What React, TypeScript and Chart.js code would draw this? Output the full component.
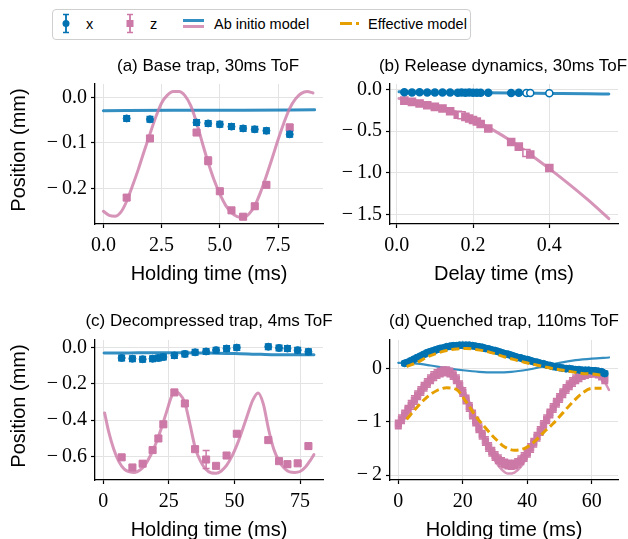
import React, { useEffect, useRef } from 'react';
import { Chart, registerables } from 'chart.js';

Chart.register(...registerables);

// ---------------- colours ----------------
const BLUE = '#0072B2';
const PINK = '#CC79A7';
const ORANGE = '#E69F00';
const BLUE_LINE = 'rgba(0,114,178,0.8)';
const PINK_LINE = 'rgba(204,121,167,0.8)';

// ---------------- (a) Base trap ----------------
const aTicksX = [0, 2.5, 5, 7.5];
const aTicksY = [0, -0.1, -0.2];
const aT = [1, 2, 4, 4.5, 5, 5.5, 6, 6.5, 7, 8];
const aX = [-0.046, -0.048, -0.055, -0.057, -0.059, -0.064, -0.068, -0.07, -0.073, -0.081];
const aXErr = [0.006, 0.006, 0.006, 0.006, 0.006, 0.006, 0.006, 0.006, 0.006, 0.006];
const aZ = [-0.22, -0.09, -0.077, -0.139, -0.206, -0.248, -0.262, -0.239, -0.192, -0.066];
const aZErr = [0.005, 0.005, 0.006, 0.008, 0.005, 0.005, 0.005, 0.005, 0.006, 0.007];
const aModelXT = [0, 3, 6, 9.07];
const aModelX = [-0.029, -0.028, -0.028, -0.027];
const aModelZT = [0, 0.25, 0.5, 0.75, 1, 1.25, 1.5, 1.75, 2, 2.25, 2.5, 2.75, 3, 3.25, 3.5, 3.75, 4, 4.25, 4.5, 4.75, 5, 5.25, 5.5, 5.75, 6, 6.25, 6.5, 6.75, 7, 7.25, 7.5, 7.75, 8, 8.25, 8.5, 8.75, 9];
const aModelZ = [-0.25, -0.259, -0.261, -0.252, -0.228, -0.194, -0.158, -0.118, -0.08, -0.043, -0.012, 0.005, 0.013, 0.013, 0.004, -0.018, -0.055, -0.1, -0.143, -0.181, -0.212, -0.237, -0.253, -0.262, -0.264, -0.256, -0.238, -0.208, -0.172, -0.133, -0.093, -0.056, -0.024, -0.003, 0.009, 0.013, 0.01];

// ---------------- (b) Release dynamics ----------------
const bTicksX = [0, 0.2, 0.4];
const bTicksY = [0, -0.5, -1, -1.5];
const bT = [0.02, 0.04, 0.06, 0.08, 0.1, 0.12, 0.14, 0.16, 0.17, 0.18, 0.19, 0.2, 0.21, 0.22, 0.24, 0.3, 0.32, 0.34, 0.35, 0.4];
const bX = [-0.035, -0.037, -0.036, -0.038, -0.037, -0.039, -0.038, -0.04, -0.038, -0.04, -0.039, -0.041, -0.04, -0.041, -0.04, -0.043, -0.042, -0.045, -0.044, -0.047];
const bXErr = [0.008, 0.008, 0.008, 0.008, 0.008, 0.008, 0.008, 0.008, 0.008, 0.008, 0.008, 0.008, 0.008, 0.008, 0.008, 0.008, 0.008, 0.008, 0.008, 0.008];
const bZ = [-0.135, -0.15, -0.169, -0.191, -0.21, -0.229, -0.262, -0.304, -0.311, -0.33, -0.349, -0.367, -0.386, -0.416, -0.469, -0.631, -0.687, -0.762, -0.78, -0.942];
const bZErr = [0.015, 0.015, 0.015, 0.015, 0.015, 0.015, 0.015, 0.015, 0.015, 0.015, 0.015, 0.015, 0.015, 0.015, 0.015, 0.02, 0.02, 0.02, 0.02, 0.02];
const bHollowX = [17, 18, 19];
const bHollowZ = [8, 17];
const bModelXT = [0.006, 0.1, 0.2, 0.3, 0.4, 0.5, 0.556];
const bModelX = [-0.03, -0.035, -0.04, -0.045, -0.049, -0.053, -0.056];
const bModelZT = [0.006, 0.05, 0.1, 0.15, 0.2, 0.25, 0.3, 0.35, 0.4, 0.45, 0.5, 0.556];
const bModelZ = [-0.11, -0.14, -0.19, -0.26, -0.36, -0.48, -0.62, -0.78, -0.95, -1.13, -1.32, -1.55];

// ---------------- (c) Decompressed trap ----------------
const cTicksX = [0, 25, 50, 75];
const cTicksY = [0, -0.2, -0.4, -0.6];
const cT = [7, 11.1, 15, 18.8, 21, 22.9, 27.1, 31.1, 35, 39.2, 43, 47, 50.9, 62.9, 67, 70.2, 74.1, 78.2];
const cX = [-0.057, -0.061, -0.064, -0.061, -0.057, -0.052, -0.043, -0.035, -0.026, -0.021, -0.014, -0.005, 0.0, 0.005, -0.002, -0.005, -0.014, -0.023];
const cXErr = [0.015, 0.015, 0.015, 0.015, 0.015, 0.015, 0.015, 0.015, 0.015, 0.015, 0.015, 0.015, 0.015, 0.015, 0.015, 0.015, 0.015, 0.015];
const cZ = [-0.605, -0.661, -0.64, -0.565, -0.501, -0.423, -0.247, -0.308, -0.56, -0.617, -0.652, -0.595, -0.475, -0.51, -0.626, -0.643, -0.638, -0.543];
const cZErr = [0.012, 0.012, 0.012, 0.012, 0.012, 0.012, 0.012, 0.012, 0.012, 0.05, 0.012, 0.012, 0.012, 0.012, 0.012, 0.016, 0.012, 0.016];
const cModelXT = [0.3, 10, 20, 30, 40, 50, 60, 70, 80.3];
const cModelX = [-0.03, -0.029, -0.028, -0.028, -0.03, -0.032, -0.037, -0.04, -0.04];
const cModelZT = [0.5, 2, 4, 6, 8, 10, 12, 14, 16, 18, 20, 22, 24, 26, 27.5, 29, 31, 33, 35, 37, 39, 41, 43, 45, 47, 49, 51, 53, 55, 57, 59, 61, 63, 65, 67, 69, 71, 73, 75, 77, 79, 80.3];
const cModelZ = [-0.36, -0.46, -0.56, -0.63, -0.67, -0.685, -0.688, -0.675, -0.645, -0.595, -0.53, -0.45, -0.36, -0.27, -0.24, -0.255, -0.3, -0.42, -0.55, -0.625, -0.67, -0.69, -0.693, -0.68, -0.65, -0.6, -0.535, -0.455, -0.37, -0.29, -0.25, -0.31, -0.45, -0.56, -0.625, -0.665, -0.685, -0.688, -0.683, -0.66, -0.62, -0.59];

// ---------------- (d) Quenched trap ----------------
const dTicksX = [0, 20, 40, 60];
const dTicksY = [0, -1, -2];
const dXT = [2, 3, 4, 5, 6, 7, 8, 9, 10, 11, 12, 13, 14, 15, 16, 17, 18, 19, 20, 21, 22, 23, 24, 25, 26, 27, 28, 29, 30, 31, 32, 33, 34, 35, 36, 37, 38, 39, 40, 41, 42, 43, 44, 45, 46, 47, 48, 49, 50, 51, 52, 53, 54, 55, 56, 57, 58, 59, 60, 61, 62, 63, 64];
const dX = [0.1, 0.12, 0.15, 0.18, 0.21, 0.24, 0.27, 0.3, 0.32, 0.34, 0.36, 0.38, 0.39, 0.41, 0.42, 0.43, 0.43, 0.44, 0.44, 0.44, 0.44, 0.43, 0.42, 0.41, 0.4, 0.38, 0.37, 0.35, 0.34, 0.32, 0.3, 0.28, 0.27, 0.25, 0.23, 0.21, 0.2, 0.18, 0.17, 0.15, 0.13, 0.12, 0.1, 0.09, 0.07, 0.06, 0.04, 0.03, 0.02, 0.01, 0.0, 0.0, -0.01, -0.02, -0.02, -0.03, -0.03, -0.03, -0.04, -0.04, -0.05, -0.06, -0.09];
const dXErr = [0.04, 0.04, 0.04, 0.04, 0.04, 0.04, 0.04, 0.04, 0.04, 0.04, 0.04, 0.04, 0.04, 0.04, 0.04, 0.04, 0.04, 0.04, 0.04, 0.04, 0.04, 0.04, 0.04, 0.04, 0.04, 0.04, 0.04, 0.04, 0.04, 0.04, 0.04, 0.04, 0.04, 0.04, 0.04, 0.04, 0.04, 0.04, 0.04, 0.04, 0.04, 0.04, 0.04, 0.04, 0.04, 0.04, 0.04, 0.04, 0.04, 0.04, 0.04, 0.04, 0.04, 0.04, 0.04, 0.04, 0.04, 0.04, 0.04, 0.04, 0.04, 0.04, 0.04];
const dZT = [0, 1, 2, 3, 4, 5, 6, 7, 8, 9, 10, 11, 12, 13, 14, 15, 16, 17, 18, 19, 20, 21, 22, 23, 24, 25, 26, 27, 28, 29, 30, 31, 32, 33, 34, 35, 36, 37, 38, 39, 40, 41, 42, 43, 44, 45, 46, 47, 48, 49, 50, 51, 52, 53, 54, 55, 56, 57, 58, 59, 60, 61, 62, 63, 64];
const dZ = [-1.05, -0.95, -0.86, -0.77, -0.68, -0.59, -0.5, -0.42, -0.34, -0.27, -0.2, -0.14, -0.1, -0.07, -0.05, -0.05, -0.07, -0.12, -0.2, -0.31, -0.44, -0.58, -0.72, -0.86, -0.99, -1.12, -1.24, -1.36, -1.47, -1.56, -1.64, -1.7, -1.75, -1.78, -1.8, -1.81, -1.8, -1.77, -1.72, -1.66, -1.58, -1.49, -1.39, -1.28, -1.17, -1.06, -0.95, -0.84, -0.74, -0.64, -0.55, -0.46, -0.38, -0.31, -0.25, -0.2, -0.16, -0.12, -0.1, -0.08, -0.07, -0.07, -0.09, -0.13, -0.2];
const dZErr = [0.08, 0.08, 0.08, 0.08, 0.08, 0.08, 0.08, 0.08, 0.08, 0.08, 0.08, 0.08, 0.08, 0.08, 0.08, 0.08, 0.08, 0.08, 0.08, 0.08, 0.08, 0.08, 0.08, 0.08, 0.08, 0.08, 0.08, 0.08, 0.08, 0.08, 0.08, 0.08, 0.08, 0.08, 0.08, 0.08, 0.08, 0.08, 0.08, 0.08, 0.08, 0.08, 0.08, 0.08, 0.08, 0.08, 0.08, 0.08, 0.08, 0.08, 0.08, 0.08, 0.08, 0.08, 0.08, 0.08, 0.08, 0.08, 0.08, 0.08, 0.08, 0.08, 0.08, 0.08, 0.08];
const dModelXT = [0, 5, 10, 15, 20, 25, 30, 35, 40, 45, 50, 55, 60, 65.3];
const dModelX = [0.11, 0.1, 0.06, 0.01, -0.03, -0.06, -0.07, -0.06, -0.02, 0.04, 0.11, 0.16, 0.19, 0.21];
const dModelZT = [0, 2, 4, 6, 8, 10, 12, 14, 16, 18, 20, 22, 24, 26, 28, 30, 32, 34, 36, 38, 40, 42, 44, 46, 48, 50, 52, 54, 56, 58, 60, 62, 64, 65.3];
const dModelZ = [-1.05, -0.88, -0.7, -0.52, -0.35, -0.21, -0.11, -0.06, -0.07, -0.17, -0.36, -0.62, -0.92, -1.22, -1.5, -1.73, -1.89, -1.97, -1.95, -1.84, -1.65, -1.42, -1.17, -0.92, -0.69, -0.49, -0.33, -0.21, -0.13, -0.08, -0.06, -0.1, -0.25, -0.4];
const dEffXT = [2.6, 6, 9, 12, 15, 18, 21, 24, 27, 30, 33, 36, 39, 42, 45, 48, 51, 54, 57, 60, 63];
const dEffX = [0.04, 0.12, 0.22, 0.29, 0.34, 0.37, 0.38, 0.36, 0.33, 0.28, 0.22, 0.17, 0.12, 0.08, 0.04, 0.0, -0.03, -0.06, -0.09, -0.1, -0.12];
const dEffZT = [2.6, 6, 9, 12, 15, 18, 21, 24, 27, 30, 33, 36, 39, 42, 45, 48, 51, 54, 57, 60, 63];
const dEffZ = [-0.95, -0.71, -0.53, -0.41, -0.36, -0.39, -0.62, -0.89, -1.11, -1.31, -1.47, -1.53, -1.5, -1.38, -1.2, -1.03, -0.83, -0.63, -0.46, -0.37, -0.37];

// ---------------- helpers ----------------
const pts = (xs: number[], ys: number[]) => xs.map((x, i) => ({ x, y: ys[i] }));

const fmt = (dec: number) => (v: number) => {
  const s = Math.abs(v).toFixed(dec);
  return v < -1e-9 ? '\u2212\u2009' + s : s;
};

function scatterSet(xs: number[], ys: number[], errs: number[], color: string, style: string, r: number, order: number, hollow: number[] = []) {
  return {
    data: pts(xs, ys),
    errors: errs,
    errorColor: color,
    showLine: false,
    pointStyle: style,
    pointRadius: r,
    pointBackgroundColor: xs.map((_, i) => (hollow.includes(i) ? '#ffffff' : color)),
    pointBorderColor: color,
    pointBorderWidth: hollow.length ? 1.5 : 1,
    order,
  };
}

function lineSet(xs: number[], ys: number[], color: string, width: number, order: number, dash: number[] = []) {
  return {
    data: pts(xs, ys),
    showLine: true,
    pointRadius: 0,
    borderColor: color,
    borderWidth: width,
    borderDash: dash,
    borderCapStyle: dash.length ? 'butt' : 'round',
    cubicInterpolationMode: 'monotone',
    fill: false,
    order,
  };
}

const errorBarPlugin = {
  id: 'errorBars',
  beforeDatasetDraw(chart: any, args: any) {
    const ds = chart.data.datasets[args.index];
    if (!ds.errors) return;
    const meta = args.meta;
    const yScale = chart.scales[meta.yAxisID];
    const ctx = chart.ctx;
    ctx.save();
    ctx.strokeStyle = ds.errorColor;
    ctx.lineWidth = 1.5;
    const cap = 3.5;
    meta.data.forEach((el: any, i: number) => {
      const e = ds.errors[i];
      if (!e) return;
      const v = ds.data[i].y;
      const x = el.x;
      const y1 = yScale.getPixelForValue(v - e);
      const y2 = yScale.getPixelForValue(v + e);
      ctx.beginPath();
      ctx.moveTo(x, y1);
      ctx.lineTo(x, y2);
      ctx.moveTo(x - cap, y1);
      ctx.lineTo(x + cap, y1);
      ctx.moveTo(x - cap, y2);
      ctx.lineTo(x + cap, y2);
      ctx.stroke();
    });
    ctx.restore();
  },
};

const TICK_FONT = { family: 'Liberation Serif', size: 20 };
const SANS = 'Liberation Sans';

interface PanelSpec {
  left: number;
  top: number;
  w: number;
  h: number;
  yw: number;
  pt: number;
  pr: number;
  xh: number;
  xMin: number;
  xMax: number;
  yMin: number;
  yMax: number;
  xTicks: number[];
  yTicks: number[];
  xDec: number;
  yDec: number;
  datasets: any[];
}

function Panel({ spec }: { spec: PanelSpec }) {
  const ref = useRef<HTMLCanvasElement>(null);
  useEffect(() => {
    const grid = {
      color: '#e3e3e3',
      lineWidth: 1,
      drawTicks: true,
      tickLength: 4,
      tickColor: '#000',
      tickWidth: 1.2,
    };
    const chart = new Chart(ref.current as HTMLCanvasElement, {
      type: 'scatter',
      data: { datasets: spec.datasets },
      options: {
        animation: false,
        responsive: false,
        devicePixelRatio: 1,
        events: [],
        layout: { padding: { top: spec.pt, right: spec.pr, left: 0, bottom: 0 } },
        plugins: { legend: { display: false }, tooltip: { enabled: false }, title: { display: false } },
        scales: {
          x: {
            type: 'linear',
            min: spec.xMin,
            max: spec.xMax,
            afterFit: (s: any) => {
              s.height = spec.xh;
            },
            afterBuildTicks: (s: any) => {
              s.ticks = spec.xTicks.map((v) => ({ value: v }));
            },
            ticks: { callback: fmt(spec.xDec), font: TICK_FONT, color: '#000', padding: 6, maxRotation: 0, autoSkip: false },
            grid,
            border: { display: true, color: '#000', width: 1.3 },
          },
          y: {
            type: 'linear',
            min: spec.yMin,
            max: spec.yMax,
            afterFit: (s: any) => {
              s.width = spec.yw;
            },
            afterBuildTicks: (s: any) => {
              s.ticks = spec.yTicks.map((v) => ({ value: v }));
            },
            ticks: { callback: fmt(spec.yDec), font: TICK_FONT, color: '#000', padding: 4, autoSkip: false },
            grid,
            border: { display: true, color: '#000', width: 1.3 },
          },
        },
      } as any,
      plugins: [errorBarPlugin],
    });
    return () => chart.destroy();
  }, []);
  return (
    <canvas
      ref={ref}
      width={spec.w}
      height={spec.h}
      style={{ position: 'absolute', left: spec.left, top: spec.top, width: spec.w, height: spec.h }}
    />
  );
}

const panelA: PanelSpec = {
  left: 0, top: 68, w: 330, h: 200, yw: 95, pt: 7, pr: 7, xh: 44,
  xMin: -0.36, xMax: 9.43, yMin: -0.278, yMax: 0.0296,
  xTicks: aTicksX, yTicks: aTicksY, xDec: 1, yDec: 1,
  datasets: [
    scatterSet(aT, aX, aXErr, BLUE, 'circle', 3.5, 1),
    scatterSet(aT, aZ, aZErr, PINK, 'rect', 5, 2),
    lineSet(aModelXT, aModelX, BLUE_LINE, 3, 4),
    lineSet(aModelZT, aModelZ, PINK_LINE, 3, 3),
  ],
};

const panelB: PanelSpec = {
  left: 330, top: 68, w: 298, h: 200, yw: 60, pt: 7, pr: 10, xh: 44,
  xMin: -0.0176, xMax: 0.58, yMin: -1.614, yMax: 0.064,
  xTicks: bTicksX, yTicks: bTicksY, xDec: 1, yDec: 1,
  datasets: [
    scatterSet(bT, bX, bXErr, BLUE, 'circle', 3.5, 1, bHollowX),
    scatterSet(bT, bZ, bZErr, PINK, 'rect', 5, 2, bHollowZ),
    lineSet(bModelXT, bModelX, BLUE_LINE, 3, 4),
    lineSet(bModelZT, bModelZ, PINK_LINE, 3, 3),
  ],
};

const panelC: PanelSpec = {
  left: 0, top: 324, w: 330, h: 200, yw: 95, pt: 8, pr: 7, xh: 44,
  xMin: -3.16, xMax: 83.76, yMin: -0.73, yMax: 0.042,
  xTicks: cTicksX, yTicks: cTicksY, xDec: 0, yDec: 1,
  datasets: [
    scatterSet(cT, cX, cXErr, BLUE, 'circle', 3.5, 1),
    scatterSet(cT, cZ, cZErr, PINK, 'rect', 5, 2),
    lineSet(cModelXT, cModelX, BLUE_LINE, 3, 4),
    lineSet(cModelZT, cModelZ, PINK_LINE, 3, 3),
  ],
};

const panelD: PanelSpec = {
  left: 330, top: 324, w: 298, h: 200, yw: 60, pt: 8, pr: 10, xh: 44,
  xMin: -2.57, xMax: 68.1, yMin: -2.09, yMax: 0.538,
  xTicks: dTicksX, yTicks: dTicksY, xDec: 0, yDec: 0,
  datasets: [
    lineSet(dEffXT, dEffX, ORANGE, 3, 0, [8, 4]),
    lineSet(dEffZT, dEffZ, ORANGE, 3, 0, [8, 4]),
    scatterSet(dXT, dX, dXErr, BLUE, 'circle', 3.5, 1),
    scatterSet(dZT, dZ, dZErr, PINK, 'rect', 4.5, 2),
    lineSet(dModelXT, dModelX, BLUE_LINE, 2.2, 4),
    lineSet(dModelZT, dModelZ, PINK_LINE, 2.5, 3),
  ],
};

function Label({ x, y, text, size, rotate = false }: { x: number; y: number; text: string; size: number; rotate?: boolean }) {
  return (
    <div
      style={{
        position: 'absolute',
        left: x,
        top: y,
        transform: `translate(-50%, -50%)${rotate ? ' rotate(-90deg)' : ''}`,
        fontFamily: SANS,
        fontSize: size,
        lineHeight: 1,
        whiteSpace: 'nowrap',
        color: '#000',
      }}
    >
      {text}
    </div>
  );
}

function LegendText({ x, text }: { x: number; text: string }) {
  return (
    <div
      style={{
        position: 'absolute',
        left: x,
        top: 13.5,
        transform: 'translateY(-50%)',
        fontFamily: SANS,
        fontSize: 14.5,
        lineHeight: 1,
        whiteSpace: 'nowrap',
        color: '#000',
      }}
    >
      {text}
    </div>
  );
}

function Legend() {
  return (
    <div
      style={{
        position: 'absolute',
        left: 52,
        top: 9,
        width: 419,
        height: 31,
        border: '1.5px solid #cfcfcf',
        borderRadius: 4,
        boxSizing: 'border-box',
        background: '#fff',
      }}
    >
      <svg width={416} height={28} style={{ position: 'absolute', left: 0, top: 0 }}>
        <line x1={13} y1={4.5} x2={13} y2={22.5} stroke={BLUE} strokeWidth={1.8} />
        <line x1={10} y1={4.5} x2={16} y2={4.5} stroke={BLUE} strokeWidth={1.5} />
        <line x1={10} y1={22.5} x2={16} y2={22.5} stroke={BLUE} strokeWidth={1.5} />
        <circle cx={13} cy={13.5} r={3.5} fill={BLUE} />
        <line x1={77} y1={4.5} x2={77} y2={22.5} stroke={PINK} strokeWidth={1.8} />
        <line x1={74} y1={4.5} x2={80} y2={4.5} stroke={PINK} strokeWidth={1.5} />
        <line x1={74} y1={22.5} x2={80} y2={22.5} stroke={PINK} strokeWidth={1.5} />
        <rect x={73.5} y={10} width={7} height={7} fill={PINK} />
        <line x1={130} y1={10.5} x2={151} y2={10.5} stroke={BLUE_LINE} strokeWidth={3} />
        <line x1={130} y1={16.5} x2={151} y2={16.5} stroke={PINK_LINE} strokeWidth={3} />
        <line x1={287} y1={13.5} x2={306} y2={13.5} stroke={ORANGE} strokeWidth={3} strokeDasharray="12 4" />
      </svg>
      <LegendText x={33} text="x" />
      <LegendText x={97} text="z" />
      <LegendText x={161} text="Ab initio model" />
      <LegendText x={315} text="Effective model" />
    </div>
  );
}

export default function App() {
  return (
    <div style={{ position: 'absolute', left: 0, top: 0, width: 628, height: 539, background: '#fff', overflow: 'hidden' }}>
      <Legend />
      <Panel spec={panelA} />
      <Panel spec={panelB} />
      <Panel spec={panelC} />
      <Panel spec={panelD} />
      <Label x={208} y={64.5} text="(a) Base trap, 30ms ToF" size={17} />
      <Label x={503} y={64.5} text="(b) Release dynamics, 30ms ToF" size={17} />
      <Label x={209} y={320} text="(c) Decompressed trap, 4ms ToF" size={17} />
      <Label x={504} y={320} text="(d) Quenched trap, 110ms ToF" size={17} />
      <Label x={209} y={273} text="Holding time (ms)" size={20} />
      <Label x={504} y={273} text="Delay time (ms)" size={20} />
      <Label x={209} y={529} text="Holding time (ms)" size={20} />
      <Label x={504} y={529} text="Holding time (ms)" size={20} />
      <Label x={18} y={149.5} text="Position (mm)" size={20} rotate />
      <Label x={18} y={406} text="Position (mm)" size={20} rotate />
    </div>
  );
}
